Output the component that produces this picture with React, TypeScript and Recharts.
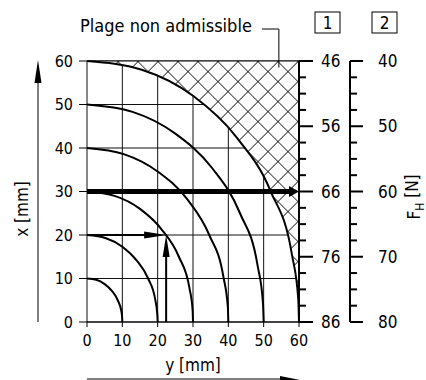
import React from 'react';
import {
  ComposedChart,
  Line,
  Area,
  XAxis,
  YAxis,
  CartesianGrid,
  ReferenceLine,
  ReferenceDot,
} from 'recharts';

const FONT = "'DejaVu Sans Condensed', 'Liberation Sans Narrow', sans-serif";

// Quarter arcs: y (horizontal, mm) vs x (vertical, mm)
const arc10 = [
  { y: 0, x: 10 }, { y: 2.6, x: 9.7 }, { y: 5, x: 8.7 }, { y: 7.1, x: 7.1 },
  { y: 8.7, x: 5 }, { y: 9.7, x: 2.6 }, { y: 9.96, x: 0.9 }, { y: 10, x: 0 },
];
const arc20 = [
  { y: 0, x: 20 }, { y: 5.2, x: 19.3 }, { y: 10, x: 17.3 }, { y: 14.1, x: 14.1 },
  { y: 17.3, x: 10 }, { y: 19.3, x: 5.2 }, { y: 19.9, x: 1.7 }, { y: 20, x: 0 },
];
const arc30 = [
  { y: 0, x: 30 }, { y: 7.8, x: 29 }, { y: 15, x: 26 }, { y: 21.2, x: 21.2 },
  { y: 26, x: 15 }, { y: 29, x: 7.8 }, { y: 29.9, x: 2.6 }, { y: 30, x: 0 },
];
const arc40 = [
  { y: 0, x: 40 }, { y: 10.4, x: 38.6 }, { y: 20, x: 34.6 }, { y: 28.3, x: 28.3 },
  { y: 34.6, x: 20 }, { y: 38.6, x: 10.4 }, { y: 39.85, x: 3.5 }, { y: 40, x: 0 },
];
const arc50 = [
  { y: 0, x: 50 }, { y: 12.9, x: 48.3 }, { y: 25, x: 43.3 }, { y: 35.4, x: 35.4 },
  { y: 43.3, x: 25 }, { y: 48.3, x: 12.9 }, { y: 49.8, x: 4.4 }, { y: 50, x: 0 },
];
const arc60 = [
  { y: 0, x: 60 }, { y: 15.5, x: 58 }, { y: 30, x: 52 }, { y: 42.4, x: 42.4 },
  { y: 52, x: 30 }, { y: 58, x: 15.5 }, { y: 59.8, x: 5.2 }, { y: 60, x: 0 },
];
const arcs = [arc10, arc20, arc30, arc40, arc50, arc60];

const limitTop = 60;
const limitRight = 60;
const hatchData = arc60.map((p) => ({ y: p.y, range: [p.x, limitTop] }));

const axisTicks = [0, 10, 20, 30, 40, 50, 60];
const scale1Ticks = [46, 48.5, 51, 53.5, 56, 58.5, 61, 63.5, 66, 68.5, 71, 73.5, 76, 78.5, 81, 83.5, 86];
const scale1Labels = [46, 56, 66, 76, 86];
const scale2Ticks = [40, 42.5, 45, 47.5, 50, 52.5, 55, 57.5, 60, 62.5, 65, 67.5, 70, 72.5, 75, 77.5, 80];
const scale2Labels = [40, 50, 60, 70, 80];

const mainArrow = { x: 30, yFrom: 0, yTo: 60 };
const readArrowH = { x: 20, yFrom: 0, yTo: 22.4 };
const readArrowV = { y: 22.4, xFrom: 0, xTo: 20 };
const noteAnchor = { y: 54.3, x: 58.5 };
const noteText = 'Plage non admissible';

const arrowShape = (width: number, headLen: number, headHalf: number) => (props: any) => {
  const { x1, y1, x2, y2 } = props;
  const dx = x2 - x1;
  const dy = y2 - y1;
  const len = Math.hypot(dx, dy) || 1;
  const ux = dx / len;
  const uy = dy / len;
  const bx = x2 - ux * headLen;
  const by = y2 - uy * headLen;
  const px = -uy;
  const py = ux;
  return (
    <g>
      <line x1={x1} y1={y1} x2={bx + ux} y2={by + uy} stroke="#000" strokeWidth={width} />
      <polygon
        points={`${x2},${y2} ${bx + px * headHalf},${by + py * headHalf} ${bx - px * headHalf},${by - py * headHalf}`}
        fill="#000"
      />
    </g>
  );
};

const makeScaleTick = (labels: number[], majorLen: number, minorLen: number, labelGap: number) => (props: any) => {
  const { x, y, payload } = props;
  const v = payload.value;
  const major = labels.includes(v);
  return (
    <g>
      <line x1={x} y1={y} x2={x + (major ? majorLen : minorLen)} y2={y} stroke="#000" strokeWidth={2} />
      {major && (
        <text x={x + labelGap} y={y} dy="0.36em" fontSize={17} fontFamily={FONT} fill="#000">
          {v}
        </text>
      )}
    </g>
  );
};

const Box = ({ cx, top, label }: { cx: number; top: number; label: string }) => (
  <g>
    <rect x={cx - 12.5} y={top} width={25} height={21} fill="none" stroke="#000" strokeWidth={1} />
    <text x={cx} y={top + 10.5} dy="0.36em" textAnchor="middle" fontSize={17} fontFamily={FONT} fill="#000">
      {label}
    </text>
  </g>
);

const leftLabel = (p: any) => {
  const vb = p.viewBox;
  const ax = vb.x + 38;
  const bottom = vb.y + vb.height;
  const tip = vb.y - 1;
  return (
    <g>
      <line x1={ax} y1={bottom} x2={ax} y2={tip + 20} stroke="#555" strokeWidth={1.5} />
      <polygon points={`${ax},${tip} ${ax - 3.5},${tip + 23} ${ax + 3.5},${tip + 23}`} fill="#000" />
      <text
        x={vb.x + 22}
        y={vb.y + 148}
        transform={`rotate(-90, ${vb.x + 22}, ${vb.y + 148})`}
        textAnchor="middle"
        dy="0.36em"
        fontSize={17}
        fontFamily={FONT}
        fill="#000"
      >
        x [mm]
      </text>
    </g>
  );
};

const bottomLabel = (p: any) => {
  const vb = p.viewBox;
  const ay = vb.y + 57;
  const x0 = vb.x;
  const x1 = vb.x + vb.width + 1;
  return (
    <g>
      <text x={vb.x + vb.width / 2} y={vb.y + 43} dy="0.36em" textAnchor="middle" fontSize={17} fontFamily={FONT} fill="#000">
        y [mm]
      </text>
      <line x1={x0} y1={ay} x2={x1 - 18} y2={ay} stroke="#555" strokeWidth={1.5} />
      <polygon points={`${x1},${ay + 1} ${x1 - 20},${ay - 3} ${x1 - 20},${ay + 4}`} fill="#000" />
    </g>
  );
};

const scale1Label = (p: any) => {
  const vb = p.viewBox;
  return <Box cx={vb.x + 28.5} top={vb.y - 49} label="1" />;
};

const scale2Label = (p: any) => {
  const vb = p.viewBox;
  const fx = vb.x + 64;
  const fy = vb.y + 136;
  return (
    <g>
      <Box cx={vb.x + 34.5} top={vb.y - 49} label="2" />
      <text
        x={fx}
        y={fy}
        transform={`rotate(-90, ${fx}, ${fy})`}
        textAnchor="middle"
        dy="0.36em"
        fontSize={17}
        fontFamily={FONT}
        fill="#000"
      >
        F<tspan fontSize={12} dy="0.35em">H</tspan>
        <tspan dy="-0.35em"> [N]</tspan>
      </text>
    </g>
  );
};

const noteShape = (props: any) => {
  const { cx, cy } = props;
  const topY = cy - 38.5;
  return (
    <g>
      <polyline points={`${cx},${cy} ${cx},${topY} ${cx - 17},${topY}`} fill="none" stroke="#000" strokeWidth={1} />
      <text x={cx - 27} y={topY - 4} dy="0.36em" textAnchor="end" fontSize={18} fontFamily={FONT} fill="#000">
        {noteText}
      </text>
    </g>
  );
};

export default function App() {
  return (
    <div style={{ position: 'absolute', left: 0, top: 0, background: '#fff' }}>
      <ComposedChart width={426} height={380} margin={{ top: 61, right: 0, bottom: 0, left: 0 }}>
        <defs>
          <pattern
            id="hatch"
            width="14.14"
            height="14.14"
            patternUnits="userSpaceOnUse"
            patternTransform="translate(138,61) rotate(45)"
          >
            <rect x="0" y="0" width="14.14" height="14.14" fill="#fff" />
            <path d="M0 0 L0 14.14 M0 0 L14.14 0" stroke="#000" strokeWidth={1.5} />
          </pattern>
        </defs>
        <CartesianGrid stroke="#111" strokeWidth={1} />
        <XAxis
          dataKey="y"
          type="number"
          domain={[0, 60]}
          ticks={axisTicks}
          interval={0}
          height={58}
          tickSize={5}
          tickMargin={8}
          tick={{ fill: '#000', fontSize: 16, fontFamily: FONT }}
          tickLine={{ stroke: '#000' }}
          axisLine={{ stroke: '#000' }}
          label={{ content: bottomLabel }}
        />
        <YAxis
          yAxisId={0}
          type="number"
          domain={[0, 60]}
          ticks={axisTicks}
          interval={0}
          width={87}
          tickSize={8}
          tickMargin={6}
          tick={{ fill: '#000', fontSize: 16, fontFamily: FONT }}
          tickLine={{ stroke: '#000' }}
          axisLine={false}
          label={{ content: leftLabel }}
        />
        <YAxis
          yAxisId="r1"
          orientation="right"
          type="number"
          domain={[46, 86]}
          allowDataOverflow
          reversed
          ticks={scale1Ticks}
          interval={0}
          width={51}
          tickSize={0}
          tickMargin={0}
          tickLine={false}
          axisLine={{ stroke: '#000', strokeWidth: 2 }}
          tick={makeScaleTick(scale1Labels, 14, 7, 22)}
          label={{ content: scale1Label }}
        />
        <YAxis
          yAxisId="r2"
          orientation="right"
          type="number"
          domain={[40, 80]}
          allowDataOverflow
          reversed
          ticks={scale2Ticks}
          interval={0}
          width={76}
          tickSize={0}
          tickMargin={0}
          tickLine={false}
          axisLine={{ stroke: '#000', strokeWidth: 2 }}
          tick={makeScaleTick(scale2Labels, 13, 7, 28)}
          label={{ content: scale2Label }}
        />
        <Area
          data={hatchData}
          dataKey="range"
          type="monotone"
          stroke="none"
          fill="url(#hatch)"
          fillOpacity={1}
          isAnimationActive={false}
          dot={false}
          activeDot={false}
        />
        <ReferenceLine y={limitTop} stroke="#000" strokeWidth={1} />
        <ReferenceLine x={limitRight} stroke="#000" strokeWidth={2} />
        {arcs.map((d, i) => (
          <Line
            key={i}
            data={d}
            dataKey="x"
            type="monotone"
            stroke="#000"
            strokeWidth={2}
            dot={false}
            activeDot={false}
            isAnimationActive={false}
          />
        ))}
        <ReferenceLine
          segment={[{ x: mainArrow.yFrom, y: mainArrow.x }, { x: mainArrow.yTo, y: mainArrow.x }]}
          shape={arrowShape(5, 10, 5.5)}
        />
        <ReferenceLine
          segment={[{ x: readArrowH.yFrom, y: readArrowH.x }, { x: readArrowH.yTo, y: readArrowH.x }]}
          shape={arrowShape(2, 22, 3.5)}
        />
        <ReferenceLine
          segment={[{ x: readArrowV.y, y: readArrowV.xFrom }, { x: readArrowV.y, y: readArrowV.xTo }]}
          shape={arrowShape(2, 22, 3.5)}
        />
        <ReferenceDot x={noteAnchor.y} y={noteAnchor.x} r={0} shape={noteShape} />
      </ComposedChart>
    </div>
  );
}
